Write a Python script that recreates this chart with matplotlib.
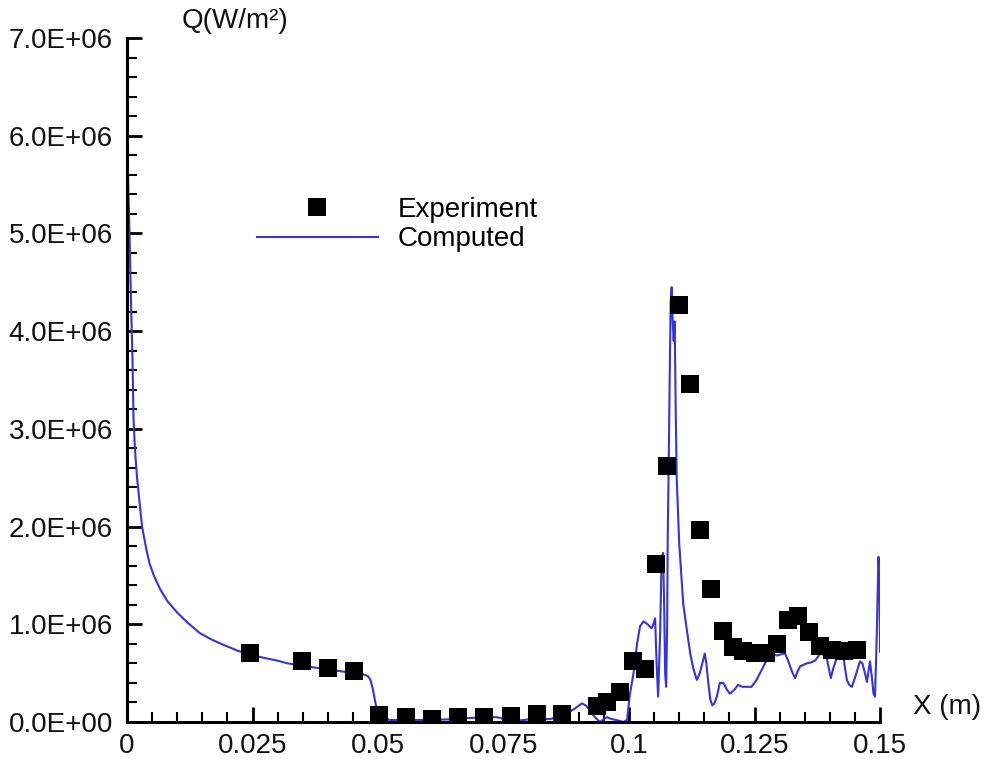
import numpy as np
import matplotlib
matplotlib.use("Agg")
import matplotlib.pyplot as plt
from matplotlib.ticker import MultipleLocator, FixedLocator, FuncFormatter
from matplotlib.lines import Line2D

plt.rcParams['font.family'] = ['Liberation Sans', 'DejaVu Sans']

# Heat flux along the wall, Q in units of 1e6 W/m^2
exp_x = [0.0245, 0.0348, 0.0400, 0.0452, 0.0501, 0.0555, 0.0607, 0.0660, 0.0712,
         0.0764, 0.0816, 0.0867, 0.0936, 0.0956, 0.0983, 0.1008, 0.1032, 0.1054,
         0.1076, 0.1099, 0.1121, 0.1141, 0.1164, 0.1187, 0.1207, 0.1228, 0.1250,
         0.1272, 0.1295, 0.1316, 0.1337, 0.1359, 0.1381, 0.1404, 0.1429, 0.1454]
exp_q = [0.71, 0.62, 0.55, 0.52, 0.07, 0.05, 0.03, 0.05, 0.05,
         0.06, 0.08, 0.08, 0.16, 0.20, 0.31, 0.62, 0.54, 1.62,
         2.62, 4.27, 3.46, 1.97, 1.36, 0.93, 0.77, 0.73, 0.71,
         0.71, 0.80, 1.04, 1.08, 0.92, 0.78, 0.74, 0.73, 0.74]

cmp_x = [0.0, 0.0002, 0.0005, 0.0008, 0.0011, 0.0013, 0.0016, 0.0020, 0.0025, 0.0030,
         0.0038, 0.0045, 0.0055, 0.0066, 0.0080, 0.0100, 0.0120, 0.0145, 0.0170, 0.0192,
         0.0220, 0.0245, 0.0270, 0.0298, 0.0320, 0.0345, 0.0370, 0.0398, 0.0425, 0.0451,
         0.0470, 0.0480, 0.0485, 0.0490, 0.0494, 0.0498, 0.0503, 0.0510, 0.0524, 0.0560,
         0.0600, 0.0657, 0.0680, 0.0700, 0.0736, 0.0745, 0.0753, 0.0770, 0.0790, 0.0803,
         0.0843, 0.0856, 0.0866, 0.0876, 0.0890, 0.0906, 0.0914, 0.0922, 0.0932, 0.0942,
         0.0950, 0.0956, 0.0965, 0.0975, 0.0989, 0.0996, 0.1002, 0.1009, 0.1016, 0.1022,
         0.1029, 0.1037, 0.1045, 0.1050, 0.1052, 0.1055, 0.1058, 0.1062, 0.1065, 0.1068,
         0.1070, 0.1072, 0.1074, 0.1076, 0.1077, 0.1079, 0.1081, 0.1083, 0.1085, 0.1087,
         0.1089, 0.1091, 0.1093, 0.1095, 0.1100, 0.1108, 0.1115, 0.1122, 0.1128, 0.1135,
         0.1141, 0.1146, 0.1151, 0.1154, 0.1158, 0.1162, 0.1166, 0.1170, 0.1175, 0.1181,
         0.1188, 0.1195, 0.1201, 0.1210, 0.1217, 0.1226, 0.1234, 0.1244, 0.1254, 0.1264,
         0.1274, 0.1281, 0.1288, 0.1295, 0.1301, 0.1311, 0.1316, 0.1321, 0.1326, 0.1331,
         0.1336, 0.1341, 0.1354, 0.1363, 0.1371, 0.1381, 0.1386, 0.1392, 0.1396, 0.1402,
         0.1407, 0.1412, 0.1418, 0.1424, 0.1428, 0.1434, 0.1439, 0.1444, 0.1450, 0.1456,
         0.1460, 0.1465, 0.1470, 0.1474, 0.1478, 0.1480, 0.1484, 0.1487, 0.1490, 0.1492,
         0.1494, 0.1496, 0.1497, 0.1499, 0.1500]
cmp_q = [5.90, 5.60, 5.00, 4.30, 3.70, 3.10, 2.78, 2.50, 2.25, 2.00,
         1.78, 1.62, 1.48, 1.36, 1.24, 1.12, 1.02, 0.91, 0.84, 0.79,
         0.73, 0.69, 0.66, 0.63, 0.60, 0.58, 0.56, 0.54, 0.52, 0.50,
         0.49, 0.47, 0.43, 0.33, 0.22, 0.12, 0.07, 0.04, 0.02, 0.02,
         0.02, 0.03, 0.04, 0.045, 0.05, 0.04, 0.02, 0.01, 0.02, 0.03,
         0.03, 0.05, 0.07, 0.09, 0.13, 0.19, 0.17, 0.12, 0.05, 0.00,
         0.03, 0.05, 0.03, 0.02, 0.00, 0.02, 0.29, 0.50, 0.80, 0.98,
         1.03, 1.00, 0.96, 1.02, 1.06, 0.60, 0.26, 0.90, 1.69, 1.73,
         1.20, 0.50, 0.36, 1.00, 1.83, 2.60, 3.50, 4.30, 4.45, 4.10,
         3.90, 4.10, 3.20, 2.50, 1.83, 1.21, 0.95, 0.70, 0.55, 0.43,
         0.50, 0.60, 0.70, 0.60, 0.40, 0.23, 0.17, 0.19, 0.26, 0.40,
         0.40, 0.33, 0.29, 0.33, 0.38, 0.36, 0.36, 0.36, 0.43, 0.53,
         0.63, 0.66, 0.69, 0.68, 0.69, 0.70, 0.64, 0.57, 0.50, 0.45,
         0.52, 0.57, 0.60, 0.61, 0.63, 0.70, 0.69, 0.72, 0.60, 0.45,
         0.55, 0.63, 0.72, 0.74, 0.63, 0.43, 0.38, 0.36, 0.45, 0.55,
         0.62, 0.60, 0.50, 0.41, 0.55, 0.62, 0.45, 0.29, 0.26, 0.60,
         0.98, 1.50, 1.69, 1.45, 0.72]

x_ticks = [0, 0.025, 0.05, 0.075, 0.1, 0.125, 0.15]
x_tick_labels = ["0", "0.025", "0.05", "0.075", "0.1", "0.125", "0.15"]

SCALE = 1e6
FS = 20
W, H = 986, 760
fig = plt.figure(figsize=(W / 100, H / 100), dpi=100)
ax = fig.add_axes([127 / W, 1 - 722 / H, (880 - 127) / W, (722 - 38) / H])

ax.plot(cmp_x, np.array(cmp_q) * SCALE, color='#3434d8', lw=1.5, zorder=2)
ax.plot(exp_x, np.array(exp_q) * SCALE, 's', color='black', ms=13, mew=0, zorder=3)

ax.set_xlim(0, 0.15)
ax.set_ylim(0, 7e6)

for side in ('top', 'right'):
    ax.spines[side].set_visible(False)
for side in ('left', 'bottom'):
    ax.spines[side].set_linewidth(2.2)

ax.xaxis.set_major_locator(FixedLocator(x_ticks))
ax.set_xticklabels(x_tick_labels)
ax.xaxis.set_minor_locator(MultipleLocator(0.005))
ax.yaxis.set_major_locator(MultipleLocator(1e6))
ax.yaxis.set_minor_locator(MultipleLocator(0.2e6))
ax.yaxis.set_major_formatter(FuncFormatter(
    lambda v, p: "{:.1E}".format(v)))

ax.tick_params(which='both', direction='in', color='black', labelsize=FS,
               labelcolor='#111111')
ax.tick_params(which='major', length=11, width=2)
ax.tick_params(which='minor', length=7, width=1.5)
ax.tick_params(axis='y', pad=10)
ax.tick_params(axis='x', pad=8)

fig.text(182 / W, 1 - 21 / H, "Q(W/m²)", fontsize=FS, ha='left', va='center',
         color='#111111')
fig.text(913 / W, 1 - 707 / H, "X (m)", fontsize=FS, ha='left', va='center',
         color='#111111')

handles = [
    Line2D([], [], marker='s', color='black', ls='none', ms=13, mew=0),
    Line2D([], [], color='#3434d8', lw=1.5),
]
ax.legend(handles, ["Experiment", "Computed"], loc='upper left',
          bbox_to_anchor=(257 / W, 1 - 197 / H), bbox_transform=fig.transFigure,
          frameon=False, fontsize=FS, handlelength=4.35, handletextpad=0.72,
          labelspacing=0.12, borderpad=0, borderaxespad=0)

fig.savefig("out.png", dpi=100)
